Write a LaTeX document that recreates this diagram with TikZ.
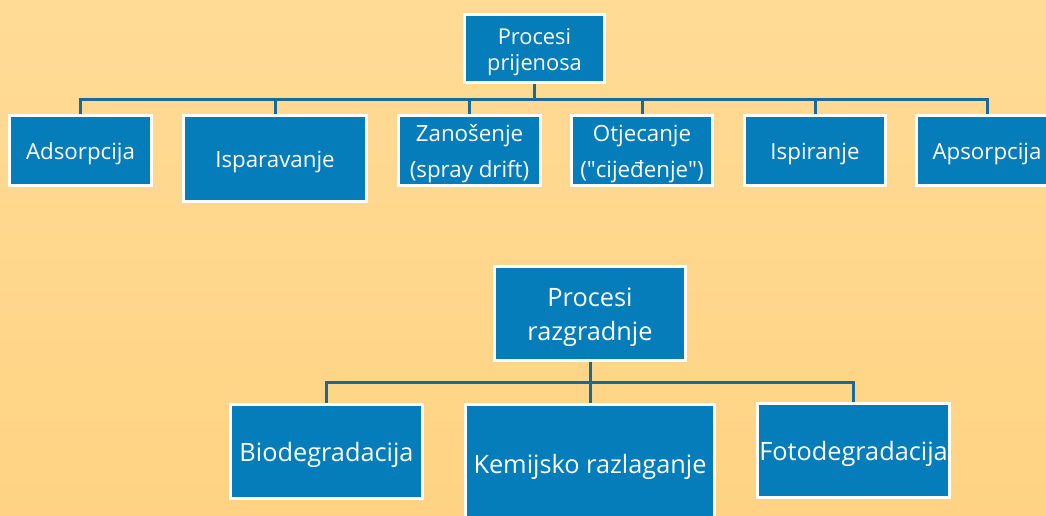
\documentclass[tikz,border=0pt]{standalone}
\usepackage{fontspec}
\setmainfont{Open Sans}
\definecolor{bgtop}{HTML}{FFDB96}
\definecolor{bgbot}{HTML}{FFD383}
\definecolor{boxblue}{HTML}{067DBB}
\definecolor{linkblue}{HTML}{1A6A98}
\tikzset{
  blk/.style={draw=white, line width=3pt, fill=boxblue, inner sep=0pt},
  lbl/.style={text=white, align=center, inner sep=0pt, yshift=-3.5pt},
  sm/.style={blk, label={[lbl, font=\fontsize{22.3}{36}\selectfont]center:#1}},
  bg/.style={blk, label={[lbl, font=\fontsize{25.3}{34}\selectfont]center:#1}},
  tp/.style={blk, label={[lbl, font=\fontsize{21.8}{26}\selectfont]center:#1}},
  conn/.style={draw=linkblue, line width=3pt},
}
\begin{document}
\begin{tikzpicture}[x=1pt,y=-1pt]
\useasboundingbox (0,0) rectangle (1046,516);
\clip (0,0) rectangle (1046,516);
\shade[top color=bgtop, bottom color=bgbot] (0,0) rectangle (1046,516);
% level 1
\node[tp={Procesi\\prijenosa}, minimum width=140pt, minimum height=68pt] (top) at (534.5,48.5) {};
\node[sm={Adsorpcija}, minimum width=142pt, minimum height=70pt] (c1) at (80.5,150.5) {};
\node[sm={Isparavanje}, minimum width=183pt, minimum height=86pt] (c2) at (275,158.5) {};
\node[sm={Zanošenje\\(spray drift)}, minimum width=142pt, minimum height=70pt] (c3) at (469.5,150.5) {};
\node[sm={Otjecanje\\(\textquotedbl cijeđenje\textquotedbl)}, minimum width=141pt, minimum height=70pt] (c4) at (642,150.5) {};
\node[sm={Ispiranje}, minimum width=141pt, minimum height=70pt] (c5) at (815,150.5) {};
\node[sm={Apsorpcija}, minimum width=141pt, minimum height=70pt] (c6) at (987,150.5) {};
\coordinate (bus1) at (534.5,100);
\draw[conn] (top.south) -- (top.south |- bus1);
\draw[conn] (c1.north) -- (c1.north |- bus1) -- (c6.north |- bus1) -- (c6.north);
\foreach \n in {c2,c3,c4,c5} \draw[conn] (\n.north) -- (\n.north |- bus1);
% level 2
\node[bg={Procesi\\razgradnje}, minimum width=191pt, minimum height=94pt] (rz) at (590,313.5) {};
\node[bg={Biodegradacija}, minimum width=192pt, minimum height=94pt] (d1) at (326.5,451.5) {};
\node[bg={Kemijsko razlaganje}, minimum width=249pt, minimum height=117pt] (d2) at (590,463) {};
\node[bg={Fotodegradacija}, minimum width=192pt, minimum height=94pt] (d3) at (853.5,450.5) {};
\coordinate (bus2) at (590,382);
\draw[conn] (rz.south) -- (rz.south |- bus2);
\draw[conn] (d1.north) -- (d1.north |- bus2) -- (d3.north |- bus2) -- (d3.north);
\draw[conn] (d2.north) -- (d2.north |- bus2);
\end{tikzpicture}
\end{document}
